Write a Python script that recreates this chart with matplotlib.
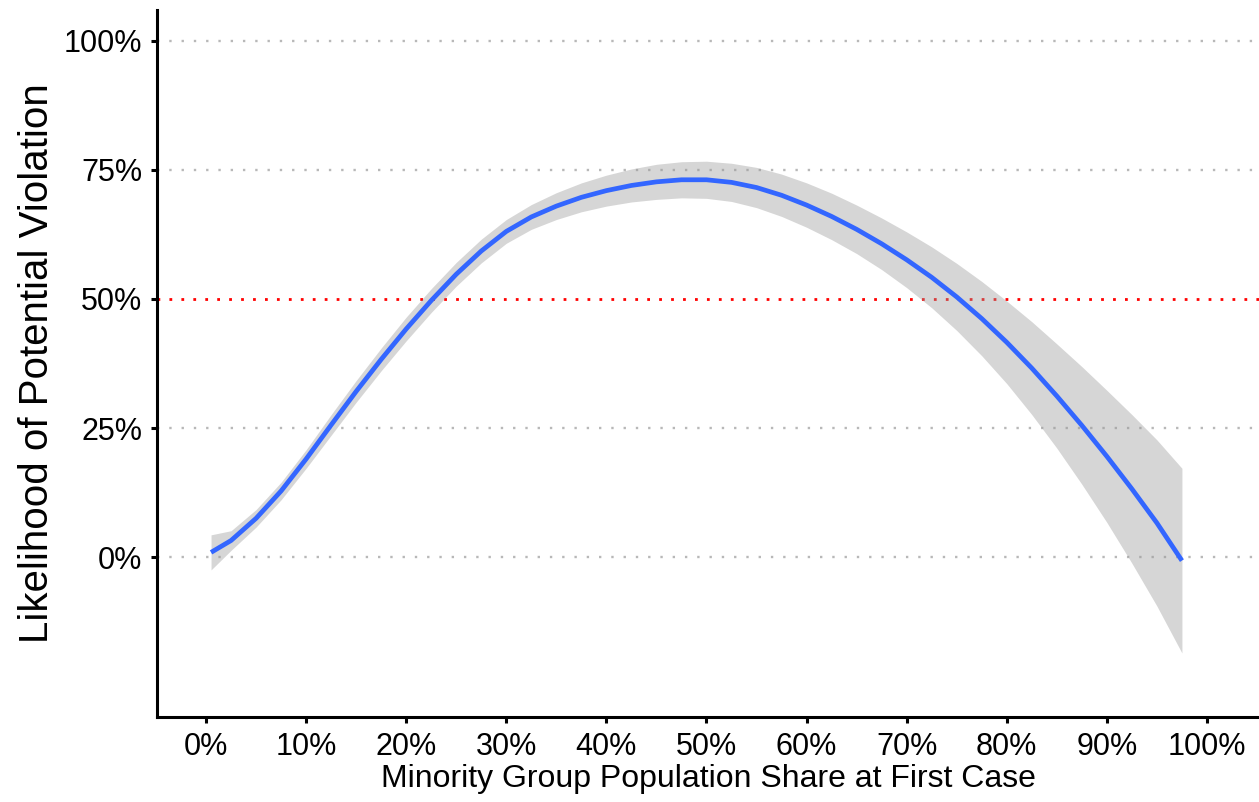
import matplotlib
matplotlib.use('Agg')
import matplotlib.pyplot as plt
from matplotlib.ticker import FuncFormatter

plt.rcParams['font.family'] = ['Liberation Sans', 'DejaVu Sans']

# minority share (%) and fitted likelihood (%)
share = [0.5, 2.5, 5, 7.5, 10, 12.5, 15, 17.5, 20, 22.5, 25, 27.5, 30, 32.5, 35, 37.5, 40,
         42.5, 45, 47.5, 50, 52.5, 55, 57.5, 60, 62.5, 65, 67.5, 70, 72.5, 75, 77.5, 80,
         82.5, 85, 87.5, 90, 92.5, 95, 97.5]
fit = [0.9, 3.2, 7.5, 12.8, 19.0, 25.6, 32.1, 38.3, 44.2, 49.7, 54.8, 59.3, 63.1, 65.9, 68.0,
       69.7, 71.0, 72.0, 72.7, 73.1, 73.1, 72.6, 71.6, 70.1, 68.2, 66.0, 63.5, 60.7, 57.6,
       54.2, 50.4, 46.2, 41.6, 36.6, 31.2, 25.5, 19.5, 13.2, 6.6, -0.7]
ci_upper = [4.3, 5.1, 9.2, 14.5, 20.8, 27.6, 34.2, 40.5, 46.5, 52.0, 57.1, 61.6, 65.4, 68.3,
            70.6, 72.5, 74.0, 75.2, 76.1, 76.6, 76.7, 76.3, 75.5, 74.2, 72.5, 70.5, 68.2,
            65.7, 63.0, 60.1, 56.9, 53.4, 49.6, 45.6, 41.3, 36.9, 32.3, 27.6, 22.7, 17.2]
ci_lower = [-2.5, 1.3, 5.8, 11.1, 17.2, 23.6, 30.0, 36.1, 41.9, 47.4, 52.5, 57.0, 60.8, 63.5,
            65.4, 66.9, 68.0, 68.8, 69.3, 69.6, 69.5, 68.9, 67.7, 66.0, 63.9, 61.5, 58.8,
            55.7, 52.2, 48.3, 43.9, 39.0, 33.6, 27.6, 21.1, 14.1, 6.7, -1.2, -9.5, -18.6]

y_ticks = [0, 25, 50, 75, 100]
x_ticks = [0, 10, 20, 30, 40, 50, 60, 70, 80, 90, 100]
threshold = 50

fig = plt.figure(figsize=(12.59, 8.02), dpi=100)
ax = fig.add_axes([157 / 1259, 85 / 802, 1102 / 1259, 707 / 802])

ax.set_xlim(-4.9, 105.2)
ax.set_ylim(-31.0, 106.0)

# dotted horizontal grid
for yt in y_ticks:
    if yt == threshold:
        continue
    ax.axhline(yt, color='#B8B8B8', lw=1.7, ls=(0, (1, 4.2)), zorder=1)
ax.axhline(threshold, color='#FF0000', lw=2.0, ls=(0, (1, 3.3)), zorder=1)

ax.fill_between(share, ci_lower, ci_upper, color='#999999', alpha=0.4, lw=0, zorder=2)
ax.plot(share, fit, color='#3366FF', lw=3.4, zorder=3, solid_capstyle='butt',
        solid_joinstyle='round')

ax.set_xticks(x_ticks)
ax.set_yticks(y_ticks)
pct = FuncFormatter(lambda v, p: f'{v:.0f}%')
ax.xaxis.set_major_formatter(pct)
ax.yaxis.set_major_formatter(pct)

for s in ['top', 'right']:
    ax.spines[s].set_visible(False)
for s in ['left', 'bottom']:
    ax.spines[s].set_linewidth(2.2)
    ax.spines[s].set_color('black')

ax.tick_params(axis='both', length=4.5, width=2.2, color='black')
ax.tick_params(axis='x', labelsize=22, pad=6)
ax.tick_params(axis='y', labelsize=22, pad=6)

ax.set_xlabel('Minority Group Population Share at First Case', fontsize=23, labelpad=2)
ax.set_ylabel('Likelihood of Potential Violation', fontsize=29, labelpad=6)

fig.savefig('out.png', dpi=100)
